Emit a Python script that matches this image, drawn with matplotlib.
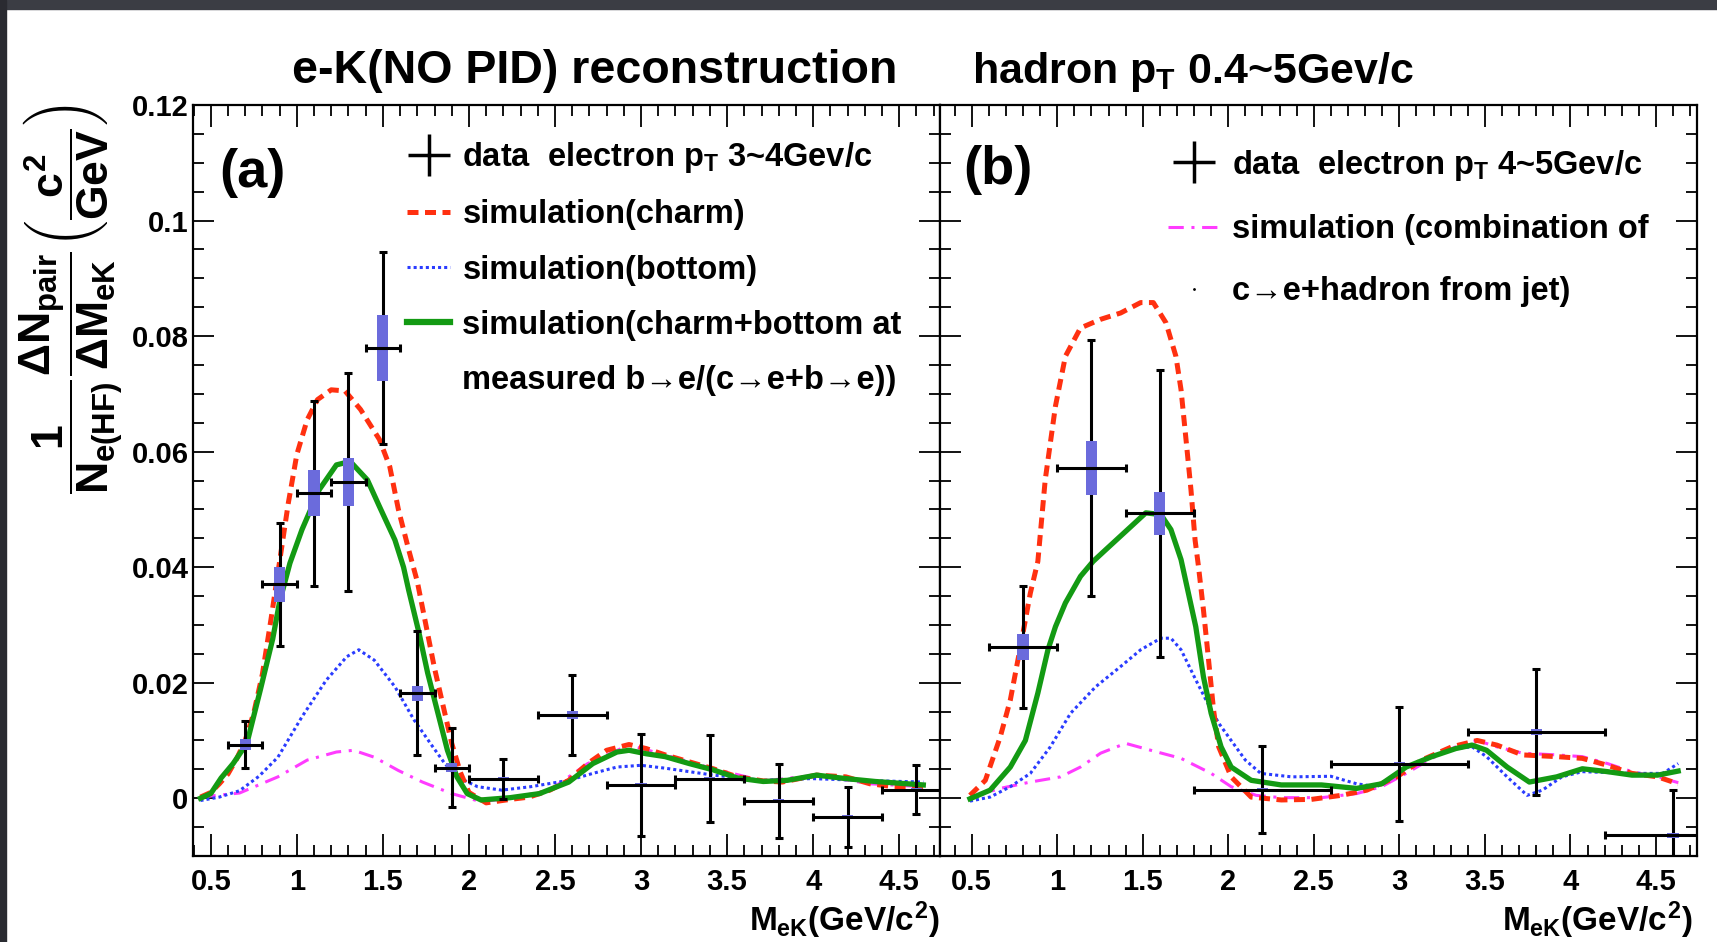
import matplotlib
matplotlib.use('Agg')
import matplotlib.pyplot as plt
from matplotlib.lines import Line2D
from matplotlib.patches import Rectangle
from matplotlib.ticker import MultipleLocator

plt.rcParams['font.family'] = ['Liberation Sans', 'DejaVu Sans']
plt.rcParams['font.weight'] = 'bold'
plt.rcParams['mathtext.fontset'] = 'custom'
plt.rcParams['mathtext.rm'] = 'Liberation Sans:bold'
plt.rcParams['mathtext.it'] = 'Liberation Sans:bold'
plt.rcParams['mathtext.bf'] = 'Liberation Sans:bold'
plt.rcParams['mathtext.sf'] = 'Liberation Sans:bold'

# ---- panel (a) data: electron pT 3~4 GeV/c ----
xa = [0.7, 0.9, 1.1, 1.3, 1.5, 1.7, 1.9, 2.2, 2.6, 3.0, 3.4, 3.8, 4.2, 4.6]
xerr_a = [0.1, 0.1, 0.1, 0.1, 0.1, 0.1, 0.1, 0.2, 0.2, 0.2, 0.2, 0.2, 0.2, 0.2]
ya = [0.0093, 0.0370, 0.0528, 0.0547, 0.0779, 0.0182, 0.0053, 0.0033, 0.0144,
      0.0023, 0.0034, -0.0005, -0.0032, 0.0015]
yerr_a = [0.0040, 0.0107, 0.0160, 0.0189, 0.0166, 0.0107, 0.0068, 0.0035, 0.0069,
          0.0088, 0.0076, 0.0064, 0.0052, 0.0043]
sys_a = [0.0009, 0.0030, 0.0040, 0.0042, 0.0057, 0.0013, 0.0008, 0.0003, 0.0007,
         0.0003, 0.0003, 0.0003, 0.0003, 0.0003]

# simulation curves, panel (a)
charm_a_x = [0.44, 0.5, 0.55, 0.6, 0.65, 0.7, 0.75, 0.8, 0.85, 0.9, 0.95, 1.0, 1.06, 1.12,
             1.2, 1.28, 1.37, 1.48, 1.54, 1.59, 1.65, 1.7, 1.75, 1.8, 1.85, 1.9, 1.95,
             2.0, 2.1, 2.24, 2.35, 2.47, 2.58, 2.69, 2.8, 2.93, 3.03, 3.14, 3.28, 3.42,
             3.56, 3.71, 3.82, 4.02, 4.19, 4.33, 4.47, 4.64]
charm_a_y = [0.0002, 0.0010, 0.0025, 0.0042, 0.0068, 0.0100, 0.0148, 0.0215, 0.0310,
             0.0410, 0.0510, 0.0595, 0.0655, 0.0690, 0.0707, 0.0705, 0.0673, 0.0621,
             0.0574, 0.0500, 0.0430, 0.0375, 0.0300, 0.0225, 0.0160, 0.0095, 0.0045,
             0.0010, -0.0008, -0.0002, 0.0002, 0.0014, 0.0031, 0.0060, 0.0083, 0.0093,
             0.0086, 0.0075, 0.0063, 0.0051, 0.0037, 0.0030, 0.0028, 0.0040, 0.0037,
             0.0025, 0.0020, 0.0020]

bottom_a_x = [0.44, 0.55, 0.667, 0.78, 0.89, 1.03, 1.17, 1.29, 1.36, 1.45, 1.57, 1.68,
              1.79, 1.86, 1.93, 2.05, 2.19, 2.36, 2.58, 2.72, 2.86, 3.0, 3.14, 3.42,
              3.71, 3.99, 4.27, 4.64]
bottom_a_y = [-0.0004, 0.0002, 0.0013, 0.0038, 0.0071, 0.0141, 0.0204, 0.0245, 0.0257,
              0.0239, 0.0193, 0.0136, 0.0089, 0.0060, 0.0037, 0.0020, 0.0014, 0.0020,
              0.0031, 0.0043, 0.0054, 0.0057, 0.0052, 0.0040, 0.0031, 0.0034, 0.0031,
              0.0028]

sum_a_x = [0.44, 0.5, 0.56, 0.63, 0.71, 0.79, 0.86, 0.9, 0.96, 1.03, 1.13, 1.23, 1.31,
           1.41, 1.48, 1.57, 1.62, 1.65, 1.71, 1.76, 1.82, 1.875, 1.93, 1.99, 2.07,
           2.24, 2.41, 2.58, 2.72, 2.86, 2.93, 3.03, 3.14, 3.28, 3.42, 3.56, 3.71, 3.85,
           4.02, 4.19, 4.36, 4.64]
sum_a_y = [0.0000, 0.0008, 0.0035, 0.0060, 0.0095, 0.0190, 0.0276, 0.0340, 0.0407,
           0.0465, 0.0534, 0.0577, 0.0583, 0.0551, 0.0505, 0.0447, 0.0400, 0.0360,
           0.0286, 0.0217, 0.0147, 0.0083, 0.0037, 0.0008, -0.0003, 0.0001, 0.0008,
           0.0028, 0.0060, 0.0080, 0.0083, 0.0077, 0.0072, 0.0060, 0.0049, 0.0035,
           0.0029, 0.0031, 0.0040, 0.0034, 0.0029, 0.0023]

jet_a_x = [0.44, 0.667, 0.89, 1.06, 1.23, 1.33, 1.45, 1.59, 1.73, 1.9, 2.07, 2.24, 2.47,
           2.69, 2.93, 3.14, 3.42, 3.71, 4.02, 4.33, 4.64]
jet_a_y = [0.0002, 0.0009, 0.0037, 0.0066, 0.0080, 0.0083, 0.0071, 0.0048, 0.0028,
           0.0008, -0.0006, 0.0000, 0.0014, 0.0060, 0.0092, 0.0075, 0.0051, 0.0030,
           0.0040, 0.0025, 0.0020]

# ---- panel (b) data: electron pT 4~5 GeV/c ----
xb = [0.8, 1.2, 1.6, 2.2, 3.0, 3.8, 4.6]
xerr_b = [0.2, 0.2, 0.2, 0.4, 0.4, 0.4, 0.4]
yb = [0.0262, 0.0572, 0.0493, 0.0015, 0.0059, 0.0114, -0.0064]
yerr_b = [0.0105, 0.0222, 0.0249, 0.0076, 0.0099, 0.0109, 0.0079]
sys_b = [0.0023, 0.0047, 0.0037, 0.0003, 0.0004, 0.0005, 0.0004]

charm_b_x = [0.49, 0.58, 0.667, 0.726, 0.785, 0.843, 0.887, 0.93, 0.99, 1.048, 1.136,
             1.254, 1.371, 1.488, 1.562, 1.636, 1.694, 1.724, 1.753, 1.782, 1.806,
             1.826, 1.855, 1.885, 1.914, 1.944, 2.017, 2.134, 2.31, 2.486, 2.66, 2.81,
             2.985, 3.13, 3.307, 3.455, 3.57, 3.72, 3.92, 4.07, 4.217, 4.36, 4.51, 4.63]
charm_b_y = [0.0005, 0.0031, 0.0106, 0.0170, 0.0262, 0.0355, 0.0410, 0.0551, 0.0679,
             0.0765, 0.0814, 0.0829, 0.0840, 0.0858, 0.0858, 0.0823, 0.0765, 0.0707,
             0.0621, 0.0534, 0.0447, 0.0401, 0.0326, 0.0239, 0.0153, 0.0089, 0.0037,
             0.0002, -0.0003, -0.0002, 0.0005, 0.0014, 0.0037, 0.0066, 0.0089, 0.0100,
             0.0092, 0.0075, 0.0072, 0.0069, 0.0057, 0.0043, 0.0037, 0.0025]

bottom_b_x = [0.49, 0.608, 0.726, 0.843, 0.96, 1.078, 1.225, 1.371, 1.488, 1.606, 1.665,
              1.724, 1.81, 1.87, 1.944, 2.017, 2.1, 2.19, 2.37, 2.6, 2.75, 2.87, 3.01,
              3.19, 3.33, 3.425, 3.51, 3.63, 3.747, 3.836, 3.95, 4.07, 4.36, 4.54, 4.63]
bottom_b_y = [-0.0005, 0.0002, 0.0020, 0.0043, 0.0089, 0.0147, 0.0193, 0.0228, 0.0257,
              0.0277, 0.0277, 0.0257, 0.0205, 0.0170, 0.0130, 0.0100, 0.0066, 0.0043,
              0.0037, 0.0038, 0.0025, 0.0020, 0.0049, 0.0072, 0.0086, 0.0089, 0.0072,
              0.0037, 0.0005, 0.0014, 0.0037, 0.0046, 0.0043, 0.0043, 0.0060]

sum_b_x = [0.49, 0.608, 0.726, 0.814, 0.887, 0.946, 0.99, 1.048, 1.136, 1.21, 1.283,
           1.43, 1.518, 1.606, 1.665, 1.724, 1.767, 1.81, 1.855, 1.9, 1.958, 2.017,
           2.134, 2.31, 2.545, 2.75, 2.897, 3.04, 3.19, 3.33, 3.425, 3.51, 3.63, 3.76,
           3.92, 4.07, 4.217, 4.36, 4.51, 4.63]
sum_b_y = [-0.0001, 0.0014, 0.0054, 0.0100, 0.0182, 0.0257, 0.0297, 0.0338, 0.0384,
           0.0410, 0.0430, 0.0470, 0.0494, 0.0491, 0.0465, 0.0413, 0.0355, 0.0297,
           0.0210, 0.0147, 0.0089, 0.0054, 0.0031, 0.0023, 0.0023, 0.0017, 0.0025,
           0.0054, 0.0072, 0.0086, 0.0092, 0.0083, 0.0054, 0.0028, 0.0037, 0.0051,
           0.0046, 0.0040, 0.0040, 0.0047]

jet_b_x = [0.49, 0.667, 0.843, 1.02, 1.136, 1.254, 1.4, 1.547, 1.724, 1.9, 2.017, 2.163,
           2.31, 2.545, 2.75, 2.897, 3.04, 3.19, 3.33, 3.455, 3.57, 3.72, 3.92, 4.07,
           4.217, 4.36, 4.51, 4.63]
jet_b_y = [0.0001, 0.0017, 0.0028, 0.0037, 0.0054, 0.0078, 0.0095, 0.0083, 0.0069,
           0.0043, 0.0020, 0.0005, 0.0001, 0.0001, 0.0008, 0.0020, 0.0043, 0.0069,
           0.0089, 0.0100, 0.0089, 0.0078, 0.0075, 0.0072, 0.0060, 0.0046, 0.0037,
           0.0027]

yticks = [0, 0.02, 0.04, 0.06, 0.08, 0.1, 0.12]
ytick_labels = ['0', '0.02', '0.04', '0.06', '0.08', '0.1', '0.12']
xticks = [0.5, 1, 1.5, 2, 2.5, 3, 3.5, 4, 4.5]
xtick_labels = ['0.5', '1', '1.5', '2', '2.5', '3', '3.5', '4', '4.5']

RED = '#ff3010'
BLUE = '#2a3cff'
GREEN = '#139a13'
MAGENTA = '#ff3cff'
BOX = '#6b6bdc'

fig = plt.figure(figsize=(17.17, 9.42), dpi=100)
fig.patch.set_facecolor('white')
# slide frame (dark band at top and left)
fig.add_artist(Rectangle((0, 1 - 9 / 942), 1, 9 / 942, transform=fig.transFigure,
                         color='#3b3d44', zorder=0))
fig.add_artist(Rectangle((0, 0), 6 / 1717, 1, transform=fig.transFigure,
                         color='#2a2b31', zorder=0))

ax_a = fig.add_axes([192.7 / 1717, 1 - 856 / 942, 747.3 / 1717, 751 / 942])
ax_b = fig.add_axes([940 / 1717, 1 - 856 / 942, 757 / 1717, 751 / 942])


def draw_data(ax, x, y, xerr, yerr, sys):
    ax.errorbar(x, y, yerr=yerr, fmt='none', ecolor='black', elinewidth=2.2,
                capsize=3, capthick=2.2, zorder=5)
    ax.bar(x, [2 * s for s in sys], bottom=[v - s for v, s in zip(y, sys)],
           width=0.065, color=BOX, zorder=6)
    ax.errorbar(x, y, xerr=xerr, fmt='none', ecolor='black', elinewidth=2.2,
                capsize=3, capthick=2.2, zorder=7)


def style_axes(ax, xlim, labels_y):
    ax.set_xlim(*xlim)
    ax.set_ylim(-0.01, 0.12)
    ax.set_xticks(xticks)
    ax.set_xticklabels(xtick_labels)
    ax.xaxis.set_minor_locator(MultipleLocator(0.1))
    ax.set_yticks(yticks)
    ax.yaxis.set_minor_locator(MultipleLocator(0.005))
    if labels_y:
        ax.set_yticklabels(ytick_labels)
    else:
        ax.set_yticklabels([])
    ax.tick_params(which='both', direction='in', top=True, right=True,
                   width=1.3, colors='black')
    ax.tick_params(which='major', length=16, labelsize=21, pad=9)
    ax.tick_params(axis='y', which='major', length=15, pad=3)
    ax.tick_params(which='minor', length=8)
    for s in ax.spines.values():
        s.set_linewidth(1.6)
    for lab in ax.get_xticklabels() + ax.get_yticklabels():
        lab.set_fontweight('bold')


# panel (a)
ax_a.plot(jet_a_x, jet_a_y, color=MAGENTA, lw=2.2, dashes=(5, 2.5, 1, 2.5), zorder=2)
ax_a.plot(bottom_a_x, bottom_a_y, color=BLUE, lw=2.2, dashes=(1, 1), zorder=2)
ax_a.plot(charm_a_x, charm_a_y, color=RED, lw=3.6, dashes=(2.2, 1.3), zorder=3)
ax_a.plot(sum_a_x, sum_a_y, color=GREEN, lw=3.8, zorder=3)
draw_data(ax_a, xa, ya, xerr_a, yerr_a, sys_a)
style_axes(ax_a, (0.395, 4.737), True)

# panel (b)
ax_b.plot(jet_b_x, jet_b_y, color=MAGENTA, lw=2.2, dashes=(5, 2.5, 1, 2.5), zorder=2)
ax_b.plot(bottom_b_x, bottom_b_y, color=BLUE, lw=2.2, dashes=(1, 1), zorder=2)
ax_b.plot(charm_b_x, charm_b_y, color=RED, lw=3.6, dashes=(2.2, 1.3), zorder=3)
ax_b.plot(sum_b_x, sum_b_y, color=GREEN, lw=3.8, zorder=3)
draw_data(ax_b, xb, yb, xerr_b, yerr_b, sys_b)
style_axes(ax_b, (0.315, 4.74), False)

# legends
h_data = Line2D([], [], color='black', marker='+', markersize=30, mew=2.5, ls='none')
h_charm = Line2D([], [], color=RED, lw=3.6, dashes=(2.2, 1.3))
h_bottom = Line2D([], [], color=BLUE, lw=2.2, dashes=(1, 1))
h_sum = Line2D([], [], color=GREEN, lw=4.5)
h_blank = Line2D([], [], ls='none')
h_jet = Line2D([], [], color=MAGENTA, lw=2.2, dashes=(5, 2.5, 1, 2.5))
h_dot = Line2D([], [], color='black', marker='.', markersize=2, ls='none')

leg_a = ax_a.legend([h_data, h_charm, h_bottom, h_sum, h_blank],
                    ['data  electron $p_{T}$ 3~4Gev/c', 'simulation(charm)',
                     'simulation(bottom)', 'simulation(charm+bottom at',
                     'measured b\u2192e/(c\u2192e+b\u2192e))'],
                    loc='upper left', bbox_to_anchor=(0.287, 0.953), frameon=False,
                    fontsize=23.5, handlelength=1.32, handletextpad=0.37,
                    labelspacing=0.74, borderpad=0, borderaxespad=0)
leg_b = ax_b.legend([h_data, h_jet, h_dot],
                    ['data  electron $p_{T}$ 4~5Gev/c', 'simulation (combination of',
                     'c\u2192e+hadron from jet)'],
                    loc='upper left', bbox_to_anchor=(0.301, 0.943), frameon=False,
                    fontsize=23.5, handlelength=1.62, handletextpad=0.33,
                    labelspacing=0.96, borderpad=0, borderaxespad=0)
for leg in (leg_a, leg_b):
    for t in leg.get_texts():
        t.set_fontweight('bold')

ax_a.text(0.036, 0.909, '(a)', transform=ax_a.transAxes, fontsize=39,
          fontweight='bold', va='center', ha='left')
ax_b.text(0.031, 0.913, '(b)', transform=ax_b.transAxes, fontsize=39,
          fontweight='bold', va='center', ha='left')

xlab = r'$M_{eK}(GeV/c^{2})$'
ax_a.text(1.0, -0.1, xlab, transform=ax_a.transAxes, fontsize=24,
          ha='right', va='baseline')
ax_b.text(0.995, -0.1, xlab, transform=ax_b.transAxes, fontsize=24,
          ha='right', va='baseline')

ylab = (r'$\dfrac{1}{N_{e(HF)}}\dfrac{\Delta N_{pair}}{\Delta M_{eK}}'
        r'\left(\dfrac{c^{2}}{GeV}\right)$')
fig.text(72 / 1717, 1 - 104 / 942, ylab, rotation=90, fontsize=32,
         ha='center', va='top')

fig.text(292 / 1717, 1 - 83 / 942, 'e-K(NO PID) reconstruction', fontsize=33.5,
         fontweight='bold', va='baseline', ha='left')
fig.text(972 / 1717, 1 - 83 / 942, 'hadron $p_{T}$ 0.4~5Gev/c', fontsize=31,
         fontweight='bold', va='baseline', ha='left')

fig.savefig('out.png', dpi=100)
